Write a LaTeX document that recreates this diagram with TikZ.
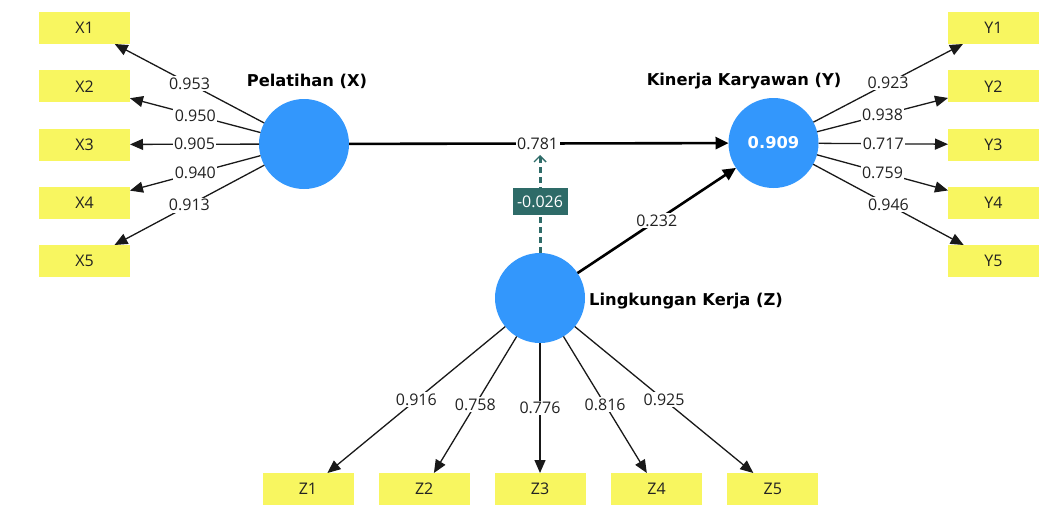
\documentclass[tikz,border=0pt]{standalone}
\usepackage{fontspec}
\setmainfont{Open Sans}
\newfontfamily\lvfont{DejaVu Sans}
\usetikzlibrary{arrows.meta}
\definecolor{lvblue}{RGB}{51,151,252}
\definecolor{indyellow}{HTML}{F8F660}
\definecolor{modteal}{HTML}{2E6B68}
\definecolor{txtgray}{HTML}{222222}
\tikzset{
  latent/.style={circle, fill=lvblue, minimum size=90pt, inner sep=0pt, outer sep=0pt},
  indic/.style={rectangle, fill=indyellow, minimum width=91pt, minimum height=32pt, inner sep=0pt, outer sep=0pt, text=txtgray, font=\fontsize{16}{19}\selectfont},
  lvname/.style={font=\lvfont\bfseries\fontsize{16.3}{19}\selectfont, text=black, inner sep=0pt},
  loadarrow/.style={draw=black!90, line width=1.3pt, -{Triangle[length=13pt,width=11pt]}},
  patharrow/.style={draw=black, line width=2.6pt, -{Triangle[length=13pt,width=12pt]}},
  wlabel/.style={fill=white, inner sep=1.5pt, text=txtgray, font=\fontsize{16}{19}\selectfont},
  modline/.style={draw=modteal, line width=3pt, dash pattern=on 6pt off 4pt, -{Straight Barb[length=6pt,width=12pt,line width=1.4pt]}},
  modlabel/.style={fill=modteal, text=white, minimum width=55pt, minimum height=27pt, inner sep=0pt, font=\fontsize{16}{19}\selectfont}
}
\begin{document}
\begin{tikzpicture}[x=1pt, y=-1pt]
\useasboundingbox (0,0) rectangle (1057,504);
% latent variables
\node[latent] (X) at (304,144) {};
\node[latent] (Y) at (773.5,143) {\textcolor{white}{\lvfont\bfseries\fontsize{16.3}{19}\selectfont 0.909}};
\node[latent] (Z) at (540,298) {};
\node[lvname] (Xn) at (307,81) {Pelatihan (X)};
\node[lvname] (Yn) at (744,81) {Kinerja Karyawan (Y)};
\node[lvname, anchor=west] (Zn) at (589,301) {Lingkungan Kerja (Z)};
% indicators X
\node[indic] (X1) at (84.5,28) {X1};
\node[indic] (X2) at (84.5,86.25) {X2};
\node[indic] (X3) at (84.5,144.5) {X3};
\node[indic] (X4) at (84.5,202.75) {X4};
\node[indic] (X5) at (84.5,261) {X5};
% indicators Y
\node[indic] (Y1) at (993.5,28) {Y1};
\node[indic] (Y2) at (993.5,86.25) {Y2};
\node[indic] (Y3) at (993.5,144.5) {Y3};
\node[indic] (Y4) at (993.5,202.75) {Y4};
\node[indic] (Y5) at (993.5,261) {Y5};
% indicators Z
\node[indic] (Z1) at (308,489) {Z1};
\node[indic] (Z2) at (424.2,489) {Z2};
\node[indic] (Z3) at (540,489) {Z3};
\node[indic] (Z4) at (656.6,489) {Z4};
\node[indic] (Z5) at (772.8,489) {Z5};
% loadings X
\draw[loadarrow] (X) -- node[wlabel]{0.953} (X1);
\draw[loadarrow] (X) -- node[wlabel]{0.950} (X2);
\draw[loadarrow] (X) -- node[wlabel]{0.905} (X3);
\draw[loadarrow] (X) -- node[wlabel]{0.940} (X4);
\draw[loadarrow] (X) -- node[wlabel]{0.913} (X5);
% loadings Y
\draw[loadarrow] (Y) -- node[wlabel]{0.923} (Y1);
\draw[loadarrow] (Y) -- node[wlabel]{0.938} (Y2);
\draw[loadarrow] (Y) -- node[wlabel]{0.717} (Y3);
\draw[loadarrow] (Y) -- node[wlabel]{0.759} (Y4);
\draw[loadarrow] (Y) -- node[wlabel]{0.946} (Y5);
% loadings Z
\draw[loadarrow] (Z) -- node[wlabel]{0.916} (Z1);
\draw[loadarrow] (Z) -- node[wlabel]{0.758} (Z2);
\draw[loadarrow] (Z) -- node[wlabel]{0.776} (Z3);
\draw[loadarrow] (Z) -- node[wlabel]{0.816} (Z4);
\draw[loadarrow] (Z) -- node[wlabel]{0.925} (Z5);
% structural paths
\draw[patharrow] (X) -- node[wlabel, pos=0.497] (pxy) {0.781} (Y);
\draw[patharrow] (Z) -- node[wlabel]{0.232} (Y);
% moderating effect
\coordinate (mtip) at (540,155);
\draw[modline] (Z) -- (mtip);
\node[modlabel] (mod) at (540,201.5) {-0.026};
\end{tikzpicture}
\end{document}
